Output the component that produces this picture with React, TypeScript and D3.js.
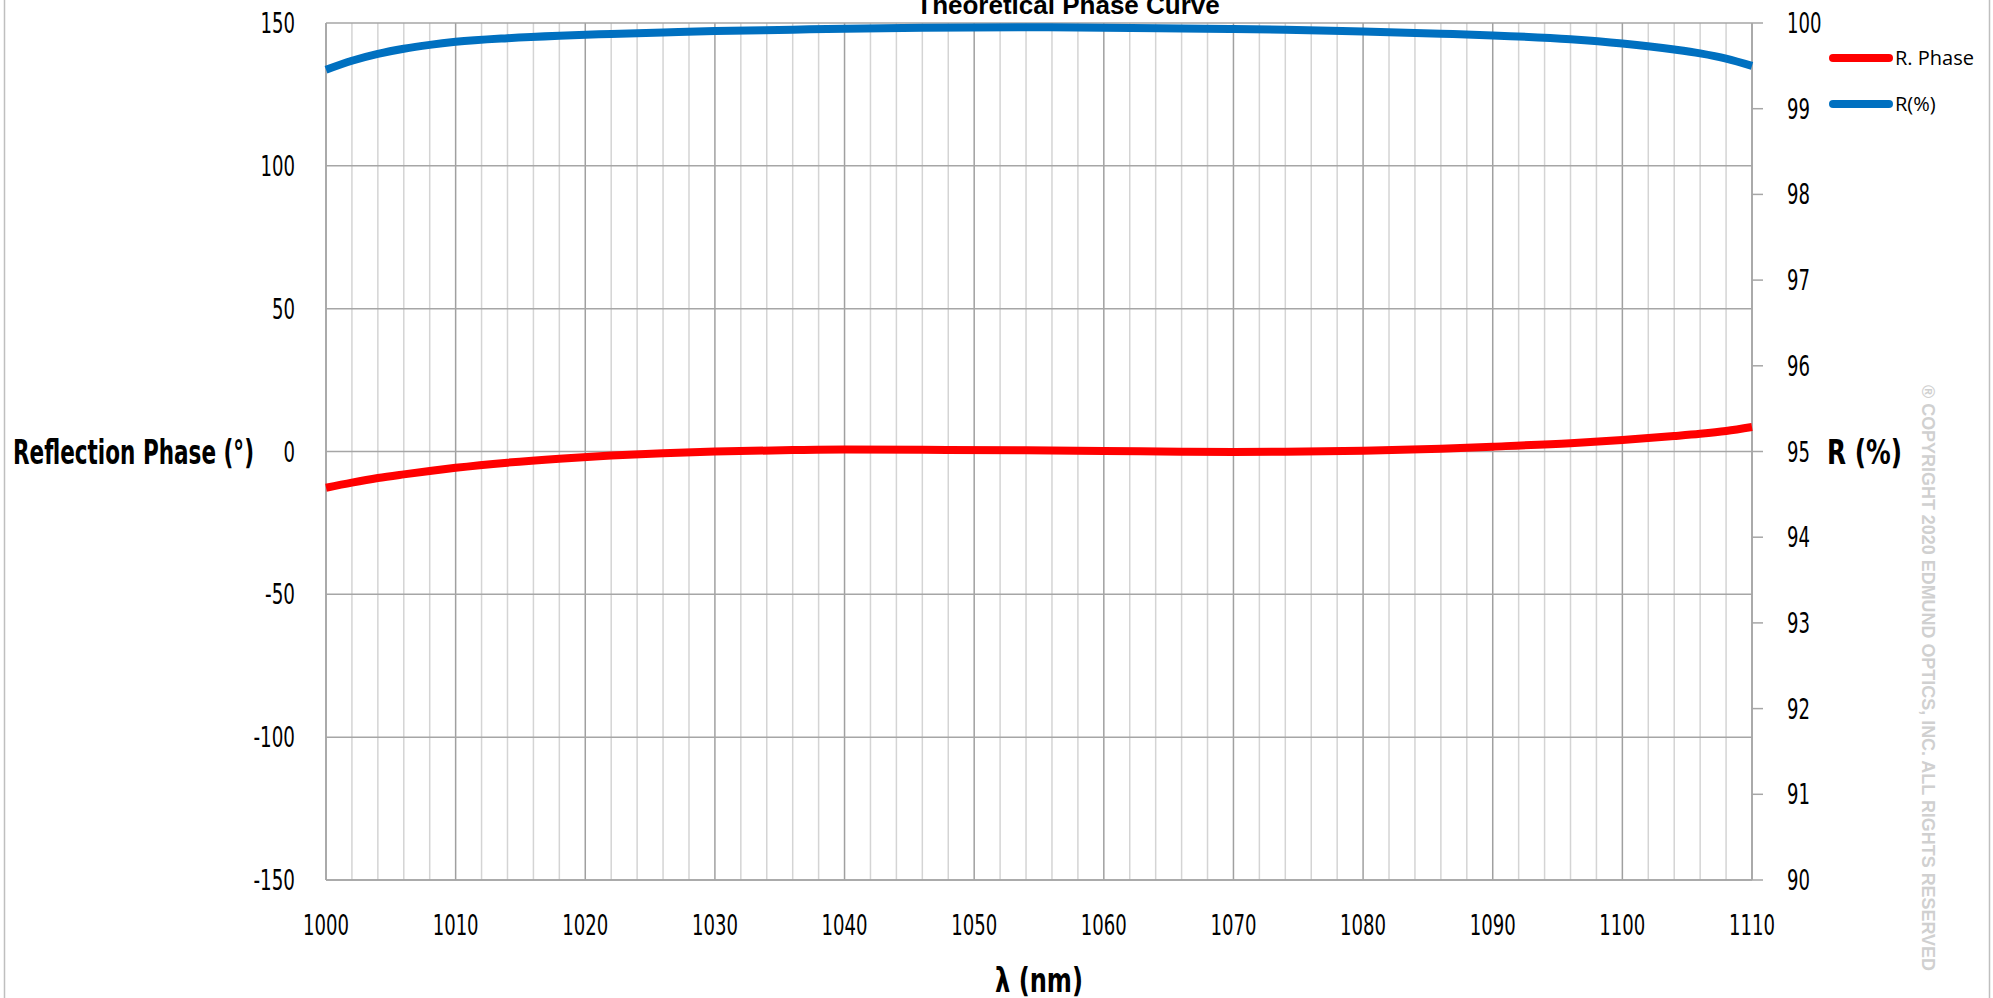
import React from 'react';
import * as d3 from 'd3';

// wavelength samples (nm)
const wavelengths = [1000, 1002, 1004, 1006, 1008, 1010, 1014, 1018, 1022, 1026, 1030, 1036, 1040, 1046, 1054, 1060, 1066, 1070, 1074, 1080, 1086, 1090, 1096, 1100, 1104, 1106, 1108, 1110];
// reflection phase (deg), left axis
const phaseValues = [-12.7, -10.9, -9.3, -8.0, -6.8, -5.7, -3.9, -2.5, -1.4, -0.6, 0.0, 0.5, 0.7, 0.6, 0.4, 0.2, -0.1, -0.2, -0.1, 0.3, 1.0, 1.7, 2.9, 4.0, 5.4, 6.2, 7.2, 8.6];
// reflectance (%), right axis
const reflValues = [99.455, 99.56, 99.64, 99.7, 99.745, 99.78, 99.823, 99.852, 99.872, 99.89, 99.906, 99.922, 99.934, 99.945, 99.95, 99.945, 99.937, 99.93, 99.922, 99.9, 99.875, 99.855, 99.81, 99.76, 99.69, 99.645, 99.585, 99.5];

const xTicks = [1000, 1010, 1020, 1030, 1040, 1050, 1060, 1070, 1080, 1090, 1100, 1110];
const leftTicks = [150, 100, 50, 0, -50, -100, -150];
const rightTicks = [100, 99, 98, 97, 96, 95, 94, 93, 92, 91, 90];
const legendItems = [
  { label: 'R. Phase', color: '#ff0000' },
  { label: 'R(%)', color: '#0070c0' },
];

const W = 1993;
const H = 998;
const left = 326;
const right = 1752;
const top = 23;
const bottom = 880;

const sans = '"DejaVu Sans", sans-serif';

// condensed look: squeeze glyphs into the width seen in the source
const tickLen = (v: number) => {
  const s = String(v);
  return s.replace('-', '').length * 11.5 + (s.startsWith('-') ? 7 : 0);
};

export default function App() {
  const x = d3.scaleLinear().domain([1000, 1110]).range([left, right]);
  const yL = d3.scaleLinear().domain([-150, 150]).range([bottom, top]);
  const yR = d3.scaleLinear().domain([90, 100]).range([bottom, top]);

  const minorX = d3.range(1000, 1111, 2);

  const phaseLine = d3.line<number>()
    .x((_, i) => x(wavelengths[i]))
    .y(d => yL(d))
    .curve(d3.curveMonotoneX);
  const reflLine = d3.line<number>()
    .x((_, i) => x(wavelengths[i]))
    .y(d => yR(d))
    .curve(d3.curveMonotoneX);

  return (
    <svg width={W} height={H} viewBox={`0 0 ${W} ${H}`}
      style={{ position: 'absolute', left: 0, top: 0, background: '#fff' }}>
      {/* outer frame */}
      <rect x={4.5} y={-2} width={1985} height={1004} fill="none" stroke="#bfbfbf" strokeWidth={1.5} />

      {/* title, cut at top like the source */}
      <text x={1068} y={14} textAnchor="middle" fontFamily='"Liberation Sans", Arial, sans-serif'
        fontWeight="bold" fontSize={26}>Theoretical Phase Curve</text>

      {/* vertical grid */}
      {minorX.map(v => (
        <line key={'vx' + v} x1={x(v)} x2={x(v)} y1={top} y2={bottom}
          stroke={v % 10 === 0 ? '#a0a0a0' : '#d4d4d4'} strokeWidth={1.5} />
      ))}
      {/* horizontal grid */}
      {leftTicks.map(v => (
        <line key={'hy' + v} x1={left} x2={right} y1={yL(v)} y2={yL(v)} stroke="#a6a6a6" strokeWidth={1.5} />
      ))}
      {/* axes */}
      <line x1={left} x2={left} y1={top} y2={bottom} stroke="#a6a6a6" strokeWidth={1.5} />
      <line x1={right} x2={right} y1={top} y2={bottom} stroke="#a6a6a6" strokeWidth={1.5} />
      <line x1={left} x2={right} y1={bottom} y2={bottom} stroke="#a6a6a6" strokeWidth={1.5} />
      {rightTicks.map(v => (
        <line key={'rt' + v} x1={right} x2={right + 11} y1={yR(v)} y2={yR(v)} stroke="#a6a6a6" strokeWidth={1.5} />
      ))}

      {/* tick labels */}
      {leftTicks.map(v => (
        <text key={'lt' + v} x={295 - tickLen(v)} y={yL(v) + 10} fontFamily={sans} fontSize={29}
          textLength={tickLen(v)} lengthAdjust="spacingAndGlyphs">{v}</text>
      ))}
      {rightTicks.map(v => (
        <text key={'rl' + v} x={1787} y={yR(v) + 10} fontFamily={sans} fontSize={29}
          textLength={tickLen(v)} lengthAdjust="spacingAndGlyphs">{v}</text>
      ))}
      {xTicks.map(v => (
        <text key={'xt' + v} x={x(v) - tickLen(v) / 2} y={935} fontFamily={sans} fontSize={29}
          textLength={tickLen(v)} lengthAdjust="spacingAndGlyphs">{v}</text>
      ))}

      {/* axis titles */}
      <text x={13} y={464} fontFamily={sans} fontWeight="bold" fontSize={34}
        textLength={241} lengthAdjust="spacingAndGlyphs">Reflection Phase (°)</text>
      <text x={1827} y={464} fontFamily={sans} fontWeight="bold" fontSize={34}
        textLength={75} lengthAdjust="spacingAndGlyphs">R (%)</text>
      <text x={(left + right) / 2 - 44} y={992} fontFamily={sans} fontWeight="bold" fontSize={34}
        textLength={88} lengthAdjust="spacingAndGlyphs">λ (nm)</text>

      {/* series */}
      <path d={reflLine(reflValues) || ''} fill="none" stroke="#0070c0" strokeWidth={8} />
      <path d={phaseLine(phaseValues) || ''} fill="none" stroke="#ff0000" strokeWidth={8} />

      {/* legend */}
      {legendItems.map((it, i) => (
        <g key={it.label} transform={`translate(0, ${58 + i * 46})`}>
          <line x1={1833} x2={1889} y1={0} y2={0} stroke={it.color} strokeWidth={8} strokeLinecap="round" />
          <text x={1895} y={7} fontFamily='"Open Sans", sans-serif' fontSize={20}>{it.label}</text>
        </g>
      ))}

      {/* watermark */}
      <text transform="translate(1922, 385) rotate(90)" fontFamily='"Liberation Sans", Arial, sans-serif'
        fontWeight="bold" fontSize={18.5} fill="#d0d0d0" textLength={586} lengthAdjust="spacingAndGlyphs">
        ® COPYRIGHT 2020 EDMUND OPTICS, INC. ALL RIGHTS RESERVED
      </text>
    </svg>
  );
}
